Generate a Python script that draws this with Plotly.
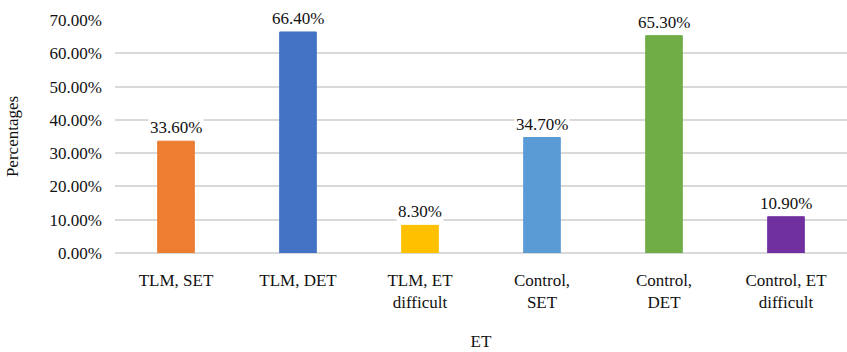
import plotly.graph_objects as go

# Share of participants per group and ET category
categories = ["TLM, SET", "TLM, DET", "TLM, ET<br>difficult",
              "Control,<br>SET", "Control,<br>DET", "Control, ET<br>difficult"]
percentages = [33.6, 66.4, 8.3, 34.7, 65.3, 10.9]
bar_colors = ["#ED7D31", "#4472C4", "#FFC000", "#5B9BD5", "#70AD47", "#7030A0"]
y_ticks = [0, 10, 20, 30, 40, 50, 60, 70]

FONT = "Liberation Serif"
SIZE = 17

fig = go.Figure(go.Bar(
    x=categories,
    y=percentages,
    marker=dict(color=bar_colors, line=dict(color=bar_colors, width=1)),
    width=0.3,
    showlegend=False,
))

# Value labels sit on a white box so the gridlines break behind them
for cat, val in zip(categories, percentages):
    fig.add_annotation(
        x=cat, y=val, text=f"{val:.2f}%", showarrow=False,
        yanchor="bottom", yshift=2, bgcolor="white",
        font=dict(family=FONT, size=SIZE, color="#111"),
    )

fig.update_layout(
    width=847, height=352,
    margin=dict(l=115, r=0, t=20, b=99),
    plot_bgcolor="white", paper_bgcolor="white",
    font=dict(family=FONT, size=SIZE, color="#111"),
    bargap=0.7,
)
fig.update_xaxes(
    showgrid=False, showline=False, zeroline=False,
    ticks="", ticklabelstandoff=15,
    title=dict(text="ET", standoff=24, font=dict(family=FONT, size=SIZE)),
    tickfont=dict(family=FONT, size=SIZE),
)
fig.update_yaxes(
    range=[0, 70], tickvals=y_ticks,
    ticktext=[f"{v:.2f}%" for v in y_ticks],
    showgrid=True, gridcolor="#D9D9D9", gridwidth=1.5,
    zeroline=True, zerolinecolor="#D9D9D9", zerolinewidth=1.5,
    showline=False, ticks="", ticklabelstandoff=12,
    title=dict(text="Percentages", standoff=26, font=dict(family=FONT, size=SIZE)),
    tickfont=dict(family=FONT, size=SIZE),
)

fig.write_html("out.html")
